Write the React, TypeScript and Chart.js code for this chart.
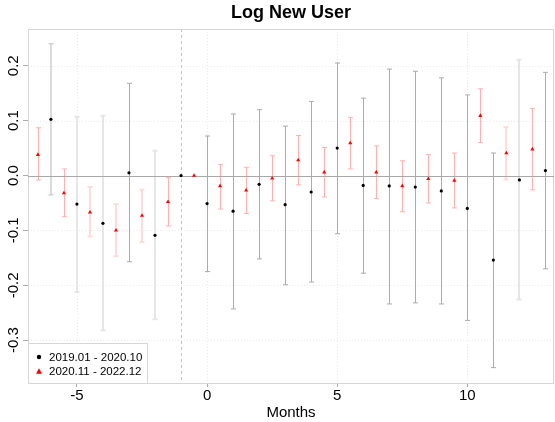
import React, { useEffect, useRef } from "react";
import { Chart, registerables } from "chart.js";

Chart.register(...registerables);

const chartTitle = "Log New User";
const xAxisTitle = "Months";
const legendLabels = ["2019.01 - 2020.10", "2020.11 - 2022.12"];

const xTicks = [-5, 0, 5, 10];
const yTicks = [-0.3, -0.2, -0.1, 0.0, 0.1, 0.2];
const yTickLabels = ["-0.3", "-0.2", "-0.1", "0.0", "0.1", "0.2"];
const xRange = [-6.88, 13.33];
const yRange = [-0.378, 0.267];
const referenceMonth = -1;

const blackMonths = [-6, -5, -4, -3, -2, -1, 0, 1, 2, 3, 4, 5, 6, 7, 8, 9, 10, 11, 12, 13];
const blackEst = [0.1025, -0.052, -0.087, 0.005, -0.109, 0, -0.051, -0.065, -0.016, -0.053, -0.03, 0.05, -0.018, -0.019, -0.021, -0.028, -0.06, -0.154, -0.008, 0.009];
const blackLo = [-0.035, -0.212, -0.282, -0.157, -0.262, 0, -0.175, -0.243, -0.152, -0.199, -0.194, -0.106, -0.178, -0.234, -0.232, -0.234, -0.264, -0.35, -0.226, -0.17];
const blackHi = [0.24, 0.107, 0.109, 0.168, 0.045, 0, 0.072, 0.112, 0.12, 0.09, 0.135, 0.205, 0.141, 0.194, 0.19, 0.178, 0.147, 0.041, 0.211, 0.188];

const redMonths = [-6.5, -5.5, -4.5, -3.5, -2.5, -1.5, -0.5, 0.5, 1.5, 2.5, 3.5, 4.5, 5.5, 6.5, 7.5, 8.5, 9.5, 10.5, 11.5, 12.5];
const redEst = [0.038, -0.032, -0.067, -0.1, -0.073, -0.048, 0, -0.019, -0.027, -0.005, 0.028, 0.006, 0.059, 0.006, -0.019, -0.006, -0.009, 0.109, 0.041, 0.048];
const redLo = [-0.008, -0.075, -0.111, -0.147, -0.121, -0.092, 0, -0.061, -0.069, -0.046, -0.017, -0.039, 0.012, -0.042, -0.066, -0.05, -0.059, 0.06, -0.007, -0.026];
const redHi = [0.087, 0.012, -0.021, -0.052, -0.026, -0.004, 0, 0.02, 0.015, 0.036, 0.073, 0.051, 0.106, 0.054, 0.027, 0.038, 0.041, 0.158, 0.088, 0.122];

// bar tones (style only): n = normal, m = medium, l = light
const blackTone = ["m", "l", "l", "n", "l", "n", "n", "n", "n", "n", "n", "n", "n", "n", "n", "n", "n", "n", "l", "n"];
const redTone = ["n", "n", "l", "l", "l", "n", "n", "n", "n", "n", "n", "n", "n", "n", "n", "n", "n", "n", "l", "n"];

const FONT = "'Liberation Sans', Arial, Helvetica, sans-serif";

const blackStyles: Record<string, [string, number]> = {
  n: ["#ababab", 1],
  m: ["#cfcfcf", 1.5],
  l: ["#e6e6e6", 2],
};
const redStyles: Record<string, [string, number]> = {
  n: ["#ffb0b0", 1],
  m: ["#ffc8c8", 1.5],
  l: ["#ffdcdc", 2],
};

const customDraw = {
  id: "customDraw",
  beforeDatasetsDraw(chart: any) {
    const { ctx, chartArea: a, scales } = chart;
    const x = scales.x;
    const y = scales.y;
    ctx.save();
    ctx.lineWidth = 1;
    ctx.strokeStyle = "#eaeaea";
    ctx.setLineDash([1, 2]);
    for (const v of xTicks) {
      const px = Math.round(x.getPixelForValue(v)) + 0.5;
      ctx.beginPath();
      ctx.moveTo(px, a.top);
      ctx.lineTo(px, a.bottom);
      ctx.stroke();
    }
    for (const v of yTicks) {
      const py = Math.round(y.getPixelForValue(v)) + 0.5;
      ctx.beginPath();
      ctx.moveTo(a.left, py);
      ctx.lineTo(a.right, py);
      ctx.stroke();
    }
    ctx.strokeStyle = "#c4c4c4";
    ctx.setLineDash([3, 3]);
    const rx = Math.round(x.getPixelForValue(referenceMonth)) + 0.5;
    ctx.beginPath();
    ctx.moveTo(rx, a.top);
    ctx.lineTo(rx, a.bottom);
    ctx.stroke();
    ctx.setLineDash([]);
    ctx.strokeStyle = "#d6d6d6";
    ctx.lineWidth = 1;
    ctx.strokeRect(Math.round(a.left) + 0.5, Math.round(a.top) + 0.5, Math.round(a.right - a.left) - 1, Math.round(a.bottom - a.top));

    const drawBars = (months: number[], lo: number[], hi: number[], tones: string[], styles: Record<string, [string, number]>) => {
      months.forEach((m, i) => {
        if (lo[i] === hi[i]) return;
        const [col, w] = styles[tones[i]];
        const px = Math.round(x.getPixelForValue(m)) + (w === 1 ? 0.5 : 0);
        const p1 = y.getPixelForValue(lo[i]);
        const p2 = y.getPixelForValue(hi[i]);
        ctx.strokeStyle = col;
        ctx.lineWidth = w;
        ctx.beginPath();
        ctx.moveTo(px, p1);
        ctx.lineTo(px, p2);
        ctx.moveTo(px - 2.5, p1);
        ctx.lineTo(px + 2.5, p1);
        ctx.moveTo(px - 2.5, p2);
        ctx.lineTo(px + 2.5, p2);
        ctx.stroke();
      });
    };
    drawBars(blackMonths, blackLo, blackHi, blackTone, blackStyles);
    drawBars(redMonths, redLo, redHi, redTone, redStyles);

    ctx.strokeStyle = "#a8a8a8";
    ctx.lineWidth = 1;
    const zy = Math.round(y.getPixelForValue(0)) + 0.5;
    ctx.beginPath();
    ctx.moveTo(a.left, zy);
    ctx.lineTo(a.right, zy);
    ctx.stroke();
    ctx.restore();
  },
  afterDraw(chart: any) {
    const { ctx, chartArea: a, scales } = chart;
    const y = scales.y;
    ctx.save();
    ctx.fillStyle = "#000";
    ctx.font = `15px ${FONT}`;
    ctx.textAlign = "center";
    ctx.textBaseline = "middle";
    yTicks.forEach((v, i) => {
      const py = y.getPixelForValue(v);
      ctx.save();
      ctx.translate(13.5, py);
      ctx.rotate(-Math.PI / 2);
      ctx.fillText(yTickLabels[i], 0, 0);
      ctx.restore();
    });
    const lx = Math.round(a.left) + 0.5;
    const lb = Math.round(a.bottom) + 0.5;
    const lw = 119;
    const lh = 40;
    ctx.fillStyle = "#fff";
    ctx.fillRect(lx, lb - lh, lw, lh);
    ctx.strokeStyle = "#d6d6d6";
    ctx.lineWidth = 1;
    ctx.strokeRect(lx, lb - lh, lw, lh);
    const r1 = lb - lh + 13.5;
    const r2 = r1 + 14.5;
    ctx.fillStyle = "#000";
    ctx.beginPath();
    ctx.arc(lx + 10.5, r1, 2.2, 0, Math.PI * 2);
    ctx.fill();
    ctx.fillStyle = "#ff0000";
    ctx.beginPath();
    ctx.moveTo(lx + 10.5, r2 - 3.2);
    ctx.lineTo(lx + 13.5, r2 + 2.2);
    ctx.lineTo(lx + 7.5, r2 + 2.2);
    ctx.closePath();
    ctx.fill();
    ctx.fillStyle = "#000";
    ctx.font = `11.5px ${FONT}`;
    ctx.textAlign = "left";
    ctx.textBaseline = "middle";
    ctx.fillText(legendLabels[0], lx + 20.5, r1 + 0.5);
    ctx.fillText(legendLabels[1], lx + 20.5, r2 + 0.5);
    ctx.restore();
  },
};

export default function App() {
  const ref = useRef<HTMLCanvasElement | null>(null);
  useEffect(() => {
    document.body.style.margin = "0";
    const canvas = ref.current!;
    const chart = new Chart(canvas, {
      type: "scatter",
      data: {
        datasets: [
          {
            label: legendLabels[0],
            data: blackMonths.map((m, i) => ({ x: m, y: blackEst[i] })),
            pointStyle: "circle",
            pointRadius: 1.6,
            pointBackgroundColor: "#000",
            pointBorderWidth: 0,
            showLine: false,
          },
          {
            label: legendLabels[1],
            data: redMonths.map((m, i) => ({ x: m, y: redEst[i] })),
            pointStyle: "triangle",
            pointRadius: 2.4,
            pointBackgroundColor: "#ff0000",
            pointBorderWidth: 0,
            showLine: false,
          },
        ],
      },
      options: {
        animation: false,
        responsive: false,
        devicePixelRatio: 1,
        events: [],
        layout: { autoPadding: false, padding: { left: 0, right: 1, top: 0, bottom: 0 } },
        plugins: {
          legend: { display: false },
          tooltip: { enabled: false },
          title: {
            display: true,
            text: chartTitle,
            fullSize: false,
            color: "#000",
            font: { family: FONT, size: 18, weight: "bold" },
            padding: { top: 2, bottom: 5.4 },
          },
        },
        scales: {
          x: {
            type: "linear",
            min: xRange[0],
            max: xRange[1],
            afterBuildTicks: (s: any) => {
              s.ticks = xTicks.map((v) => ({ value: v }));
            },
            afterFit: (s: any) => {
              s.height = 39;
            },
            grid: { display: true, drawOnChartArea: false, drawTicks: true, tickLength: 4, tickColor: "#ababab", tickWidth: 1 },
            border: { display: false },
            ticks: {
              color: "#000",
              font: { family: FONT, size: 15 },
              padding: 0,
              maxRotation: 0,
              autoSkip: false,
              callback: (v: any) => String(v),
            },
            title: {
              display: true,
              text: xAxisTitle,
              color: "#000",
              font: { family: FONT, size: 15 },
              padding: { top: 0, bottom: 0 },
            },
          },
          y: {
            type: "linear",
            min: yRange[0],
            max: yRange[1],
            afterBuildTicks: (s: any) => {
              s.ticks = yTicks.map((v) => ({ value: v }));
            },
            afterFit: (s: any) => {
              s.width = 28;
            },
            grid: { display: true, drawOnChartArea: false, drawTicks: true, tickLength: 5, tickColor: "#ababab", tickWidth: 1 },
            border: { display: false },
            ticks: { display: false },
          },
        },
      },
      plugins: [customDraw],
    } as any);
    return () => chart.destroy();
  }, []);
  return (
    <div style={{ position: "absolute", left: 0, top: 0, width: 555, height: 422, background: "#fff" }}>
      <canvas ref={ref} width={555} height={422} style={{ width: 555, height: 422, display: "block" }} />
    </div>
  );
}
